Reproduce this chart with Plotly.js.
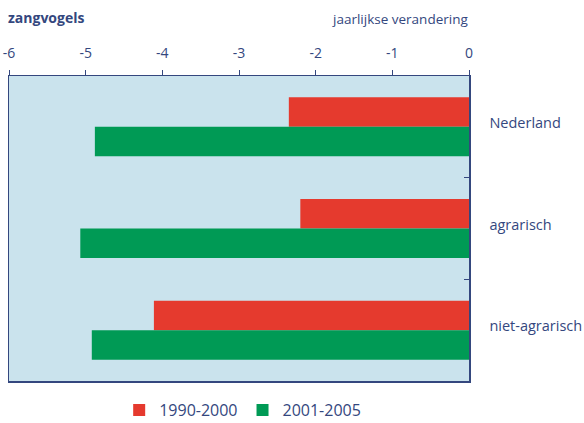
<!DOCTYPE html>
<html>
<head>
<meta charset="utf-8">
<script src="https://cdn.plot.ly/plotly-3.0.1.min.js"></script>
<style>body{margin:0;padding:0;background:#fff}#chart{width:584px;height:423px}</style>
</head>
<body>
<div id="chart"></div>
<script>
var categories = ["Nederland", "agrarisch", "niet-agrarisch"];
var series1Name = "1990-2000";
var series1 = [-2.35, -2.2, -4.11];
var series2Name = "2001-2005";
var series2 = [-4.88, -5.07, -4.92];
var xTicks = [-6, -5, -4, -3, -2, -1, 0];

var navy = "#34477e";
var traces = [
  {type: "bar", orientation: "h", name: series1Name, y: categories, x: series1,
   marker: {color: "#e53a2e", line: {width: 0}}, hoverinfo: "x+name"},
  {type: "bar", orientation: "h", name: series2Name, y: categories, x: series2,
   marker: {color: "#009a55", line: {width: 0}}, hoverinfo: "x+name"}
];

var layout = {
  width: 584, height: 423,
  margin: {l: 9, r: 115, t: 76, b: 42, autoexpand: false},
  paper_bgcolor: "#ffffff",
  plot_bgcolor: "#cae3ed",
  font: {family: "Open Sans, Lato, sans-serif", color: navy, size: 13},
  barmode: "group",
  bargap: 0.42,
  bargroupgap: 0,
  showlegend: true,
  title: {text: "<b>zangvogels</b>", x: 0.0137, xanchor: "left", xref: "container",
          y: 0.958, yanchor: "middle", yref: "container",
          font: {size: 14, color: navy, family: "Open Sans, Lato, sans-serif"}},
  xaxis: {
    side: "top", range: [-6, 0], tickvals: xTicks, ticktext: xTicks.map(String),
    ticks: "outside", ticklen: 5, tickwidth: 1, tickcolor: navy,
    showline: true, linecolor: navy, linewidth: 1.5, mirror: true,
    showgrid: false, zeroline: false, fixedrange: true,
    automargin: false, ticklabelstandoff: 6,
    tickfont: {size: 14, color: navy}
  },
  yaxis: {
    side: "right", autorange: "reversed", type: "category",
    ticks: "inside", tickson: "boundaries", ticklen: 5, tickcolor: navy, tickwidth: 1,
    showline: true, linecolor: navy, linewidth: 1.5, mirror: true,
    showgrid: false, zeroline: false, fixedrange: true,
    automargin: false,
    ticklabelstandoff: 16, ticklabelshift: 4,
    tickfont: {size: 14.5, color: navy}
  },
  legend: {orientation: "h", x: 0.508, xanchor: "center", y: -0.095, yanchor: "middle",
           font: {size: 16, color: navy}, traceorder: "normal", itemwidth: 30},
  annotations: [
    {text: "jaarlijkse verandering", xref: "paper", yref: "paper", x: 1.003, y: 1.187,
     xanchor: "right", yanchor: "middle", showarrow: false,
     font: {size: 13.5, color: navy}}
  ]
};

Plotly.newPlot("chart", traces, layout, {displayModeBar: false, staticPlot: true});
</script>
</body>
</html>
